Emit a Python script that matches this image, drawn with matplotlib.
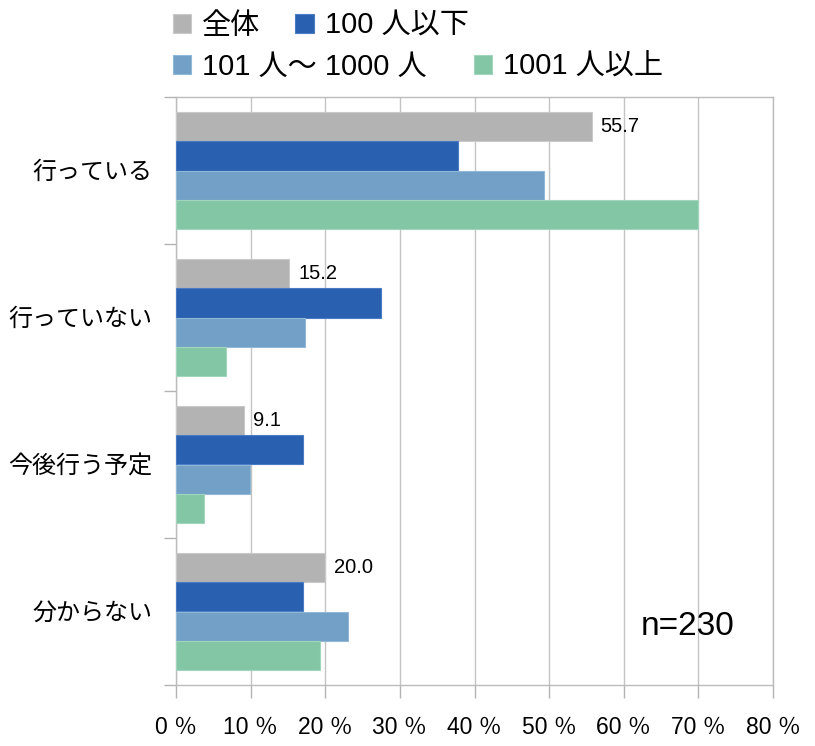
import matplotlib
matplotlib.use("Agg")
import matplotlib.pyplot as plt
import numpy as np

categories = ["行っている", "行っていない", "今後行う予定", "分からない"]
series_names = ["全体", "100 人以下", "101 人〜 1000 人", "1001 人以上"]
v_all = [55.7, 15.2, 9.1, 20.0]
v_small = [37.8, 27.5, 17.0, 17.0]
v_mid = [49.3, 17.3, 9.9, 23.1]
v_large = [70.0, 6.7, 3.8, 19.3]
xticks = [0, 10, 20, 30, 40, 50, 60, 70, 80]
xtick_labels = [f"{t} ％" for t in xticks]
note = "n=230"

colors = ["#b3b3b3", "#2a60b0", "#72a0c6", "#83c6a6"]
edge_colors = ["#c9c9c9", "#4a7cc6", "#92b8d8", "#a2d6bc"]

JP = ["Liberation Sans", "Noto Sans CJK JP", "DejaVu Sans"]
plt.rcParams["font.family"] = JP

fig = plt.figure(figsize=(8.15, 7.46), dpi=100)
ax = fig.add_axes([176 / 815, 1 - 685 / 746, (773 - 176) / 815, (685 - 97) / 746])

y = np.arange(len(categories))
h = 0.2
offsets = [-0.3, -0.1, 0.1, 0.3]
series = [v_all, v_small, v_mid, v_large]
bars = []
for vals, off, c, ec, name in zip(series, offsets, colors, edge_colors, series_names):
    b = ax.barh(y + off, vals, height=h, color=c, edgecolor=ec, linewidth=0.8,
                label=name, zorder=3)
    bars.append(b)

for yy, v in zip(y + offsets[0], v_all):
    ax.text(v + 1.2, yy, f"{v:.1f}", va="center", ha="left", fontsize=14.5,
            family=JP, zorder=4)

ax.set_xlim(0, 80)
ax.set_ylim(3.5, -0.5)
ax.set_xticks(xticks)
ax.set_xticklabels(xtick_labels, family=JP, fontsize=16.5)
ax.set_yticks(y)
ax.set_yticklabels(categories, fontsize=17.3, family=JP)
ax.set_yticks([-0.5, 0.5, 1.5, 2.5, 3.5], minor=True)
ax.tick_params(axis="y", which="major", length=0, pad=17)
ax.tick_params(axis="y", which="minor", length=9, color="#b3b3b3", width=1)
ax.tick_params(axis="x", which="major", length=9, color="#b3b3b3", width=1, pad=13)

ax.grid(axis="x", color="#c4c4c4", linewidth=1, zorder=0)
ax.set_axisbelow(True)
for s in ax.spines.values():
    s.set_color("#bcbcbc")
    s.set_linewidth(1)

ax.text(0.857, 0.1, note, transform=ax.transAxes, ha="center", va="center",
        fontsize=24, family=JP)

leg_kw = dict(frameon=False, fontsize=21, handlelength=0.62, handleheight=0.62,
              handletextpad=0.38, borderpad=0, borderaxespad=0, loc="center left")
leg1 = fig.legend(handles=[bars[0], bars[1]], labels=series_names[:2], ncol=2,
                  columnspacing=1.2, bbox_to_anchor=(173 / 815, 1 - 26 / 746), **leg_kw)
leg2 = fig.legend(handles=[bars[2], bars[3]], labels=series_names[2:], ncol=2,
                  columnspacing=1.62, bbox_to_anchor=(173 / 815, 1 - 67 / 746), **leg_kw)

fig.savefig("out.png", dpi=100)
